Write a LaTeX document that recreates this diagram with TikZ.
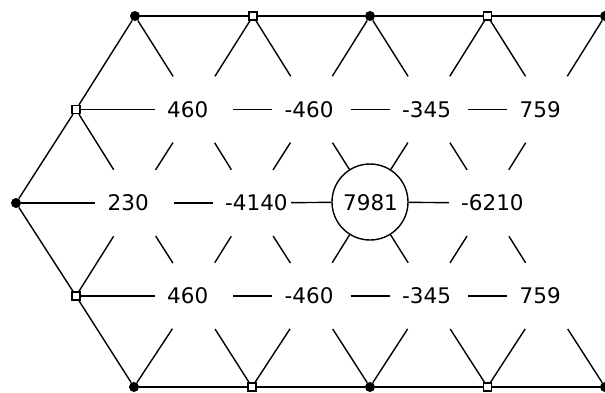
\documentclass[tikz,border=0pt]{standalone}
\usepackage{fontspec}
\setmainfont{DejaVu Sans}
\begin{document}
\begin{tikzpicture}[x=1pt,y=-1pt,
  edge/.style={line width=1.4pt,black},
  fdot/.style={circle,fill=black,inner sep=0pt,minimum size=10pt},
  odot/.style={rectangle,draw=black,fill=white,line width=1.3pt,inner sep=0pt,minimum size=8pt},
  lat/.style={circle,inner sep=0pt,minimum size=78pt},
  ring/.style={circle,draw=black,line width=1.4pt,inner sep=0pt,minimum size=76pt},
  num/.style={anchor=west,inner sep=0pt,font=\fontsize{21.5}{21.5}\selectfont},
]
\useasboundingbox (0,0) rectangle (605,392);
% row 0
\node[fdot] (t1) at (135,16) {};
\node[odot] (t2) at (253,16) {};
\node[fdot] (t3) at (370,16) {};
\node[odot] (t4) at (487.5,16) {};
\node[fdot] (t5) at (605,16) {};
% row 1
\node[odot] (a0) at (76,109.5) {};
\node[lat] (a1) at (194,109.5) {};
\node[lat] (a2) at (311.5,109.5) {};
\node[lat] (a3) at (429,109.5) {};
\node[lat] (a4) at (546.5,109.5) {};
% row 2
\node[fdot] (m0) at (16,203) {};
\node[lat] (m1) at (134.5,203) {};
\node[lat] (m2) at (252,203) {};
\node[ring] (m3) at (370,202) {};
\node[lat] (m4) at (488,203) {};
% row 3
\node[odot] (b0) at (76,296) {};
\node[lat] (b1) at (194,296) {};
\node[lat] (b2) at (311.5,296) {};
\node[lat] (b3) at (429,296) {};
\node[lat] (b4) at (546.5,296) {};
% row 4
\node[fdot] (u1) at (134,387) {};
\node[odot] (u2) at (252,387) {};
\node[fdot] (u3) at (370,387) {};
\node[odot] (u4) at (487.5,387) {};
\node[fdot] (u5) at (605,387) {};
% numbers
\node[num] (na1) at (167,109.5) {460};
\node[num] (na2) at (284.5,109.5) {-460};
\node[num] (na3) at (402,109.5) {-345};
\node[num] (na4) at (519.5,109.5) {759};
\node[num] (nm1) at (107.5,203) {230};
\node[num] (nm2) at (225,203) {-4140};
\node[num] (nm3) at (343,203) {7981};
\node[num] (nm4) at (461,203) {-6210};
\node[num] (nb1) at (167,296) {460};
\node[num] (nb2) at (284.5,296) {-460};
\node[num] (nb3) at (402,296) {-345};
\node[num] (nb4) at (519.5,296) {759};
% edges
\foreach \p/\q in {t1/t2,t2/t3,t3/t4,t4/t5,
  t1/a0,t1/a1,t2/a1,t2/a2,t3/a2,t3/a3,t4/a3,t4/a4,t5/a4,
  a0/a1,a1/a2,a2/a3,a3/a4,
  a0/m0,a0/m1,a1/m1,a1/m2,a2/m2,a2/m3,a3/m3,a3/m4,a4/m4,
  m0/m1,m1/m2,m2/m3,m3/m4,
  m0/b0,m1/b0,m1/b1,m2/b1,m2/b2,m3/b2,m3/b3,m4/b3,m4/b4,
  b0/b1,b1/b2,b2/b3,b3/b4,
  b0/u1,b1/u1,b1/u2,b2/u2,b2/u3,b3/u3,b3/u4,b4/u4,b4/u5,
  u1/u2,u2/u3,u3/u4,u4/u5}
  \draw[edge] (\p) -- (\q);
\end{tikzpicture}
\end{document}
